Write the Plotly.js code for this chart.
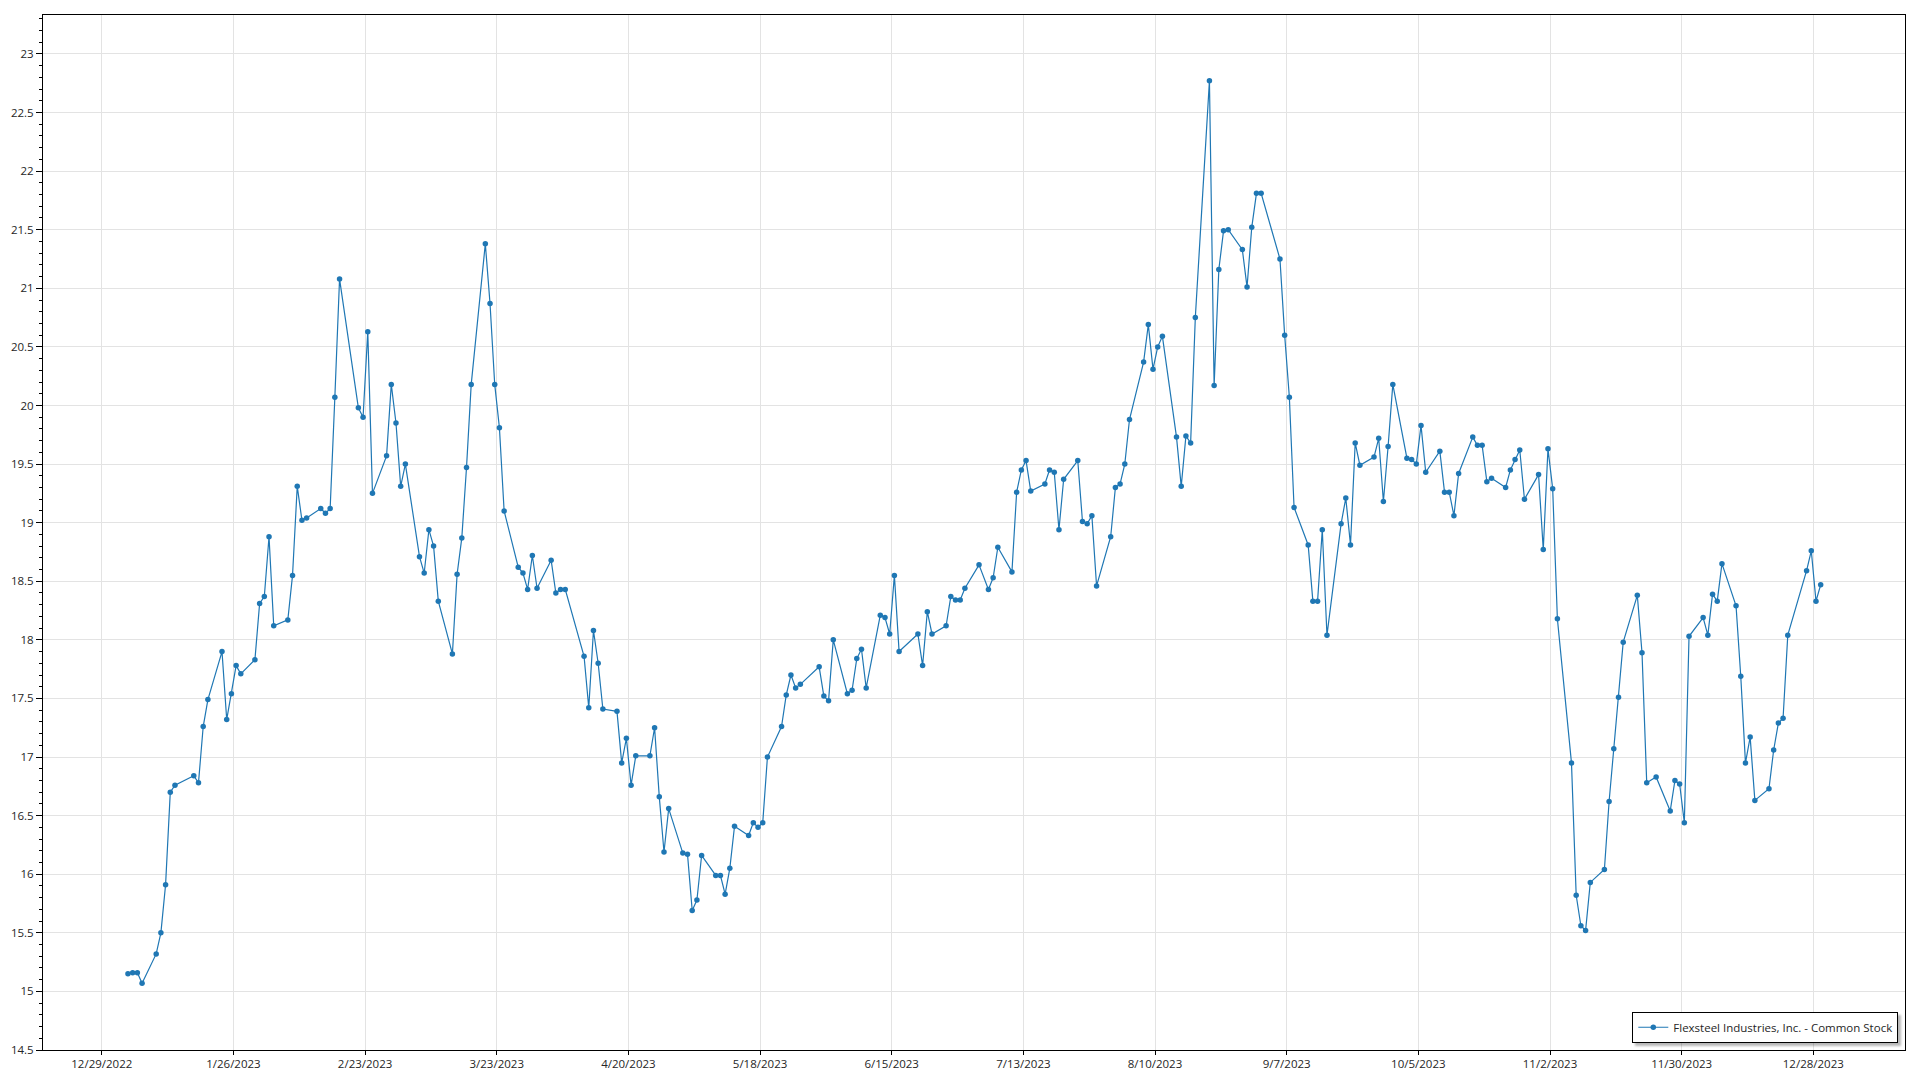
<!DOCTYPE html>
<html>
<head>
<meta charset="utf-8">
<script src="https://cdn.plot.ly/plotly-3.0.1.min.js"></script>
<style>
  html, body { margin: 0; padding: 0; background: #ffffff; }
  #chart { width: 1920px; height: 1080px; }
  .legend .bg { filter: drop-shadow(3px 3px 1px rgba(0,0,0,0.28)); }
</style>
</head>
<body>
<div id="chart"></div>
<script>
const seriesName = "Flexsteel Industries, Inc. - Common Stock";

const dates = [
  "2023-01-03","2023-01-04","2023-01-05","2023-01-06","2023-01-09","2023-01-10","2023-01-11","2023-01-12","2023-01-13",
  "2023-01-17","2023-01-18","2023-01-19","2023-01-20","2023-01-23","2023-01-24","2023-01-25","2023-01-26","2023-01-27",
  "2023-01-30","2023-01-31",
  "2023-02-01","2023-02-02","2023-02-03","2023-02-06","2023-02-07","2023-02-08","2023-02-09","2023-02-10","2023-02-13",
  "2023-02-14","2023-02-15","2023-02-16","2023-02-17","2023-02-21","2023-02-22","2023-02-23","2023-02-24","2023-02-27",
  "2023-02-28",
  "2023-03-01","2023-03-02","2023-03-03","2023-03-06","2023-03-07","2023-03-08","2023-03-09","2023-03-10","2023-03-13",
  "2023-03-14","2023-03-15","2023-03-16","2023-03-17","2023-03-20","2023-03-21","2023-03-22","2023-03-23","2023-03-24",
  "2023-03-27","2023-03-28","2023-03-29","2023-03-30","2023-03-31",
  "2023-04-03","2023-04-04","2023-04-05","2023-04-06","2023-04-10","2023-04-11","2023-04-12","2023-04-13","2023-04-14",
  "2023-04-17","2023-04-18","2023-04-19","2023-04-20","2023-04-21","2023-04-24","2023-04-25","2023-04-26","2023-04-27",
  "2023-04-28",
  "2023-05-01","2023-05-02","2023-05-03","2023-05-04","2023-05-05","2023-05-08","2023-05-09","2023-05-10","2023-05-11",
  "2023-05-12","2023-05-15","2023-05-16","2023-05-17","2023-05-18","2023-05-19","2023-05-22","2023-05-23","2023-05-24",
  "2023-05-25","2023-05-26","2023-05-30","2023-05-31",
  "2023-06-01","2023-06-02","2023-06-05","2023-06-06","2023-06-07","2023-06-08","2023-06-09","2023-06-12","2023-06-13",
  "2023-06-14","2023-06-15","2023-06-16","2023-06-20","2023-06-21","2023-06-22","2023-06-23","2023-06-26","2023-06-27",
  "2023-06-28","2023-06-29","2023-06-30",
  "2023-07-03","2023-07-05","2023-07-06","2023-07-07","2023-07-10","2023-07-11","2023-07-12","2023-07-13","2023-07-14",
  "2023-07-17","2023-07-18","2023-07-19","2023-07-20","2023-07-21","2023-07-24","2023-07-25","2023-07-26","2023-07-27",
  "2023-07-28","2023-07-31",
  "2023-08-01","2023-08-02","2023-08-03","2023-08-04","2023-08-07","2023-08-08","2023-08-09","2023-08-10","2023-08-11",
  "2023-08-14","2023-08-15","2023-08-16","2023-08-17","2023-08-18","2023-08-21","2023-08-22","2023-08-23","2023-08-24",
  "2023-08-25","2023-08-28","2023-08-29","2023-08-30","2023-08-31",
  "2023-09-01","2023-09-05","2023-09-06","2023-09-07","2023-09-08","2023-09-11","2023-09-12","2023-09-13","2023-09-14",
  "2023-09-15","2023-09-18","2023-09-19","2023-09-20","2023-09-21","2023-09-22","2023-09-25","2023-09-26","2023-09-27",
  "2023-09-28","2023-09-29",
  "2023-10-02","2023-10-03","2023-10-04","2023-10-05","2023-10-06","2023-10-09","2023-10-10","2023-10-11","2023-10-12",
  "2023-10-13","2023-10-16","2023-10-17","2023-10-18","2023-10-19","2023-10-20","2023-10-23","2023-10-24","2023-10-25",
  "2023-10-26","2023-10-27","2023-10-30","2023-10-31",
  "2023-11-01","2023-11-02","2023-11-03","2023-11-06","2023-11-07","2023-11-08","2023-11-09","2023-11-10","2023-11-13",
  "2023-11-14","2023-11-15","2023-11-16","2023-11-17","2023-11-20","2023-11-21","2023-11-22","2023-11-24","2023-11-27",
  "2023-11-28","2023-11-29","2023-11-30",
  "2023-12-01","2023-12-04","2023-12-05","2023-12-06","2023-12-07","2023-12-08","2023-12-11","2023-12-12","2023-12-13",
  "2023-12-14","2023-12-15","2023-12-18","2023-12-19","2023-12-20","2023-12-21","2023-12-22","2023-12-26","2023-12-27",
  "2023-12-28","2023-12-29"
];

const closes = [
  15.15,15.16,15.16,15.07,15.32,15.50,15.91,16.70,16.76,
  16.84,16.78,17.26,17.49,17.90,17.32,17.54,17.78,17.71,
  17.83,18.31,
  18.37,18.88,18.12,18.17,18.55,19.31,19.02,19.04,19.12,
  19.08,19.12,20.07,21.08,19.98,19.90,20.63,19.25,19.57,
  20.18,
  19.85,19.31,19.50,18.71,18.57,18.94,18.80,18.33,17.88,
  18.56,18.87,19.47,20.18,21.38,20.87,20.18,19.81,19.10,
  18.62,18.57,18.43,18.72,18.44,
  18.68,18.40,18.43,18.43,17.86,17.42,18.08,17.80,17.41,
  17.39,16.95,17.16,16.76,17.01,17.01,17.25,16.66,16.19,
  16.56,
  16.18,16.17,15.69,15.78,16.16,15.99,15.99,15.83,16.05,
  16.41,16.33,16.44,16.40,16.44,17.00,17.26,17.53,17.70,
  17.59,17.62,17.77,17.52,
  17.48,18.00,17.54,17.57,17.84,17.92,17.59,18.21,18.19,
  18.05,18.55,17.90,18.05,17.78,18.24,18.05,18.12,18.37,
  18.34,18.34,18.44,
  18.64,18.43,18.53,18.79,18.58,19.26,19.45,19.53,19.27,
  19.33,19.45,19.43,18.94,19.37,19.53,19.01,18.99,19.06,
  18.46,18.88,
  19.30,19.33,19.50,19.88,20.37,20.69,20.31,20.50,20.59,
  19.73,19.31,19.74,19.68,20.75,22.77,20.17,21.16,21.49,
  21.50,21.33,21.01,21.52,21.81,
  21.81,21.25,20.60,20.07,19.13,18.81,18.33,18.33,18.94,
  18.04,18.99,19.21,18.81,19.68,19.49,19.56,19.72,19.18,
  19.65,20.18,
  19.55,19.54,19.50,19.83,19.43,19.61,19.26,19.26,19.06,
  19.42,19.73,19.66,19.66,19.35,19.38,19.30,19.45,19.54,
  19.62,19.20,19.41,18.77,
  19.63,19.29,18.18,16.95,15.82,15.56,15.52,15.93,16.04,
  16.62,17.07,17.51,17.98,18.38,17.89,16.78,16.83,16.54,
  16.80,16.77,16.44,
  18.03,18.19,18.04,18.39,18.33,18.65,18.29,17.69,16.95,
  17.17,16.63,16.73,17.06,17.29,17.33,18.04,18.59,18.76,
  18.33,18.47
];

// timestamps of the quotes fall in the afternoon of each trading day
const quoteTime = "13:40";

const xTickStart = "2022-12-29";
const xTickStepDays = 28;
const xRange = ["2022-12-16 12:00", "2024-01-16 12:00"];
const yRange = [14.5, 23.332];

const fontFamily = "'Open Sans', 'Noto Sans', sans-serif";
const lineColor = "#1f77b4";
const fontSize = 11.5;

const trace = {
  type: "scatter",
  mode: "lines+markers",
  name: seriesName,
  x: dates.map(d => d + " " + quoteTime),
  y: closes,
  line: { color: lineColor, width: 1.2 },
  marker: { color: lineColor, size: 5.5 },
  showlegend: true
};

const layout = {
  width: 1920,
  height: 1080,
  margin: { l: 43, r: 15, t: 15, b: 30, pad: 0 },
  paper_bgcolor: "#ffffff",
  plot_bgcolor: "#ffffff",
  font: { family: fontFamily, size: fontSize, color: "#262626" },
  showlegend: true,
  xaxis: {
    type: "date",
    range: xRange,
    tick0: xTickStart,
    dtick: xTickStepDays * 86400000,
    tickformat: "%-m/%-d/%Y",
    ticks: "outside",
    ticklen: 4,
    ticklabelstandoff: -1,
    tickcolor: "#000000",
    showgrid: true,
    gridcolor: "#e3e3e3",
    gridwidth: 1,
    showline: true,
    linecolor: "#000000",
    linewidth: 1,
    mirror: true,
    zeroline: false,
    tickfont: { family: fontFamily, size: fontSize, color: "#262626" }
  },
  yaxis: {
    range: yRange,
    tick0: 14.5,
    dtick: 0.5,
    ticks: "outside",
    ticklen: 6,
    tickcolor: "#000000",
    showgrid: true,
    gridcolor: "#e3e3e3",
    gridwidth: 1,
    showline: true,
    linecolor: "#000000",
    linewidth: 1,
    mirror: true,
    zeroline: false,
    minor: { dtick: 0.1, ticks: "outside", ticklen: 3, tickcolor: "#000000", showgrid: false },
    tickfont: { family: fontFamily, size: fontSize, color: "#262626" }
  },
  legend: {
    x: 0.9964,
    y: 0.007,
    xanchor: "right",
    yanchor: "bottom",
    bgcolor: "#ffffff",
    bordercolor: "#000000",
    borderwidth: 1,
    font: { family: fontFamily, size: fontSize, color: "#262626" }
  }
};

Plotly.newPlot("chart", [trace], layout, { displayModeBar: false, staticPlot: true });
</script>
</body>
</html>
